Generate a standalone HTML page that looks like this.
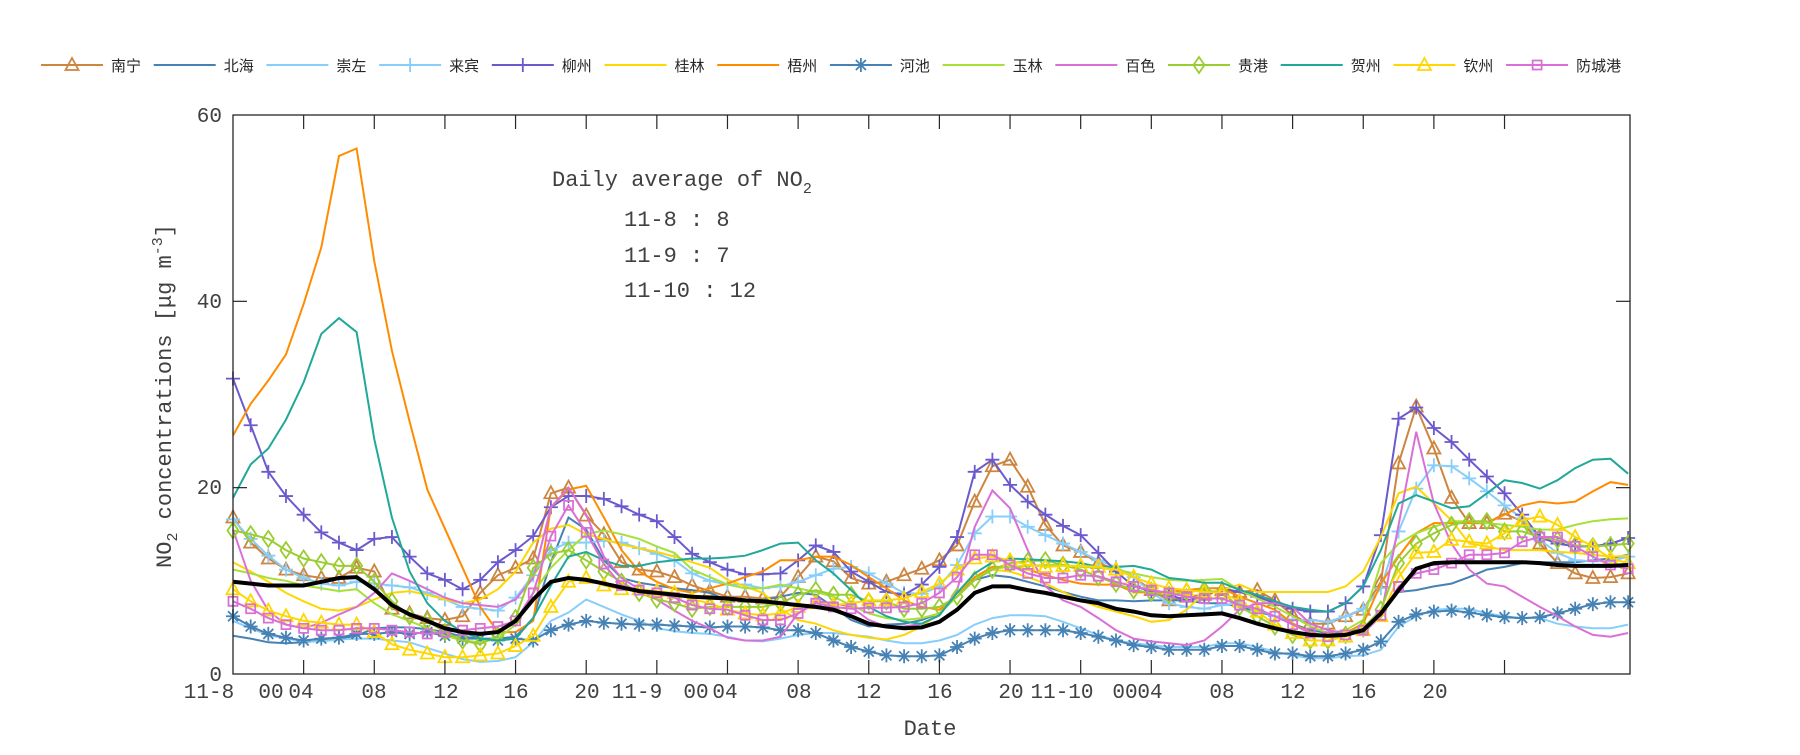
<!DOCTYPE html>
<html><head><meta charset="utf-8">
<style>
html,body{margin:0;padding:0;background:#fff;}
svg text{font-family:"Liberation Mono",monospace;fill:#404040;}
.lg{font-family:"Liberation Sans","Noto Sans CJK SC",sans-serif !important;font-size:15px;fill:#262626 !important;}
</style></head><body>
<svg id="s" width="1800" height="750" viewBox="0 0 1800 750" xmlns="http://www.w3.org/2000/svg">
<rect width="1800" height="750" fill="#fff"/>
<g id="plot"></g>
<rect x="233" y="115" width="1397" height="559" fill="none" stroke="#262626" stroke-width="1.3"/>
<g id="ticks" stroke="#262626" stroke-width="1.2"></g>
<g font-size="21" text-anchor="middle">
<text x="209" y="698">11-8</text><text x="271" y="698">00</text><text x="301" y="698">04</text>
<text x="374" y="698">08</text><text x="446" y="698">12</text><text x="516" y="698">16</text>
<text x="587" y="698">20</text><text x="637" y="698">11-9</text><text x="696" y="698">00</text><text x="725" y="698">04</text>
<text x="799" y="698">08</text><text x="869" y="698">12</text><text x="940" y="698">16</text>
<text x="1011" y="698">20</text><text x="1062" y="698">11-10</text><text x="1125" y="698">00</text><text x="1150" y="698">04</text>
<text x="1222" y="698">08</text><text x="1293" y="698">12</text><text x="1364" y="698">16</text><text x="1435" y="698">20</text>
</g>
<g font-size="21" text-anchor="end">
<text x="222" y="122">60</text><text x="222" y="308">40</text><text x="222" y="494">20</text><text x="222" y="681">0</text>
</g>
<text x="930" y="735" font-size="22" text-anchor="middle">Date</text>
<text transform="translate(171,396) rotate(-90)" font-size="22" text-anchor="middle">NO<tspan font-size="15" dy="6">2</tspan><tspan dy="-6"> concentrations [μg m</tspan><tspan font-size="15" dy="-9">-3</tspan><tspan dy="9">]</tspan></text>
<g font-size="22">
<text x="552" y="186">Daily average of NO<tspan font-size="15" dy="7">2</tspan></text>
<text x="624" y="226">11-8 : 8</text>
<text x="624" y="262">11-9 : 7</text>
<text x="624" y="297">11-10 : 12</text>
</g>
<g id="legend"></g>
</svg>
<script>
var D={
wz:[25.6,29,31.5,34.3,39.7,45.8,55.6,56.4,44.3,34.7,27.1,19.8,15.6,11.4,7.2,4.5,4.5,5.7,17.9,19.8,20.2,16.8,13.3,11,9.9,9.1,8.7,9.2,9.7,10.4,11,12.2,12.2,12.6,12.6,11.7,10.4,9.2,7.9,7.2,6.9,8.3,10.4,11.5,11.5,11.2,10.6,10.1,9.7,9.6,9.6,8.8,8.7,8.8,9,9.2,9.2,8.3,7.6,6.9,5.4,4.5,4,4.4,5.4,9.7,12.6,15.1,16.2,16.2,16.2,16.2,17.1,18.1,18.5,18.3,18.5,19.6,20.6,20.3],
hz:[18.9,22.5,24.2,27.3,31.3,36.5,38.2,36.7,25.2,16.8,11,7.6,5.7,4.5,3.8,3.6,3.8,6,9.5,12.6,13.1,12.2,11.6,11.6,12,12.2,12.4,12.4,12.5,12.7,13.3,14,14.1,12.2,10.8,9,7.2,6.2,5.6,5.4,6.3,8.7,10.8,12,12.4,12.3,12.2,12.1,11.9,11.5,11.5,11.6,11.2,10.3,10.1,9.8,9.8,9,8.5,7.8,7.2,6.9,6.7,7.6,9.4,13.3,18.3,19.2,18.5,17.8,18,19.4,20.8,20.5,19.9,20.8,22.1,23,23.1,21.5],
lz:[31.7,26.7,21.7,19.1,17.1,15.2,14.1,13.3,14.5,14.7,12.6,10.8,10.1,9.1,10.1,12,13.3,14.8,17.9,19.1,19.1,18.8,18,17.1,16.4,14.7,12.9,12,11.2,10.7,10.7,10.8,12.2,13.8,13.1,11,9.9,8.8,8.5,9.6,11.5,14.7,21.7,23,20.3,18.5,17.1,15.9,14.9,13,11,9.4,8.9,8.5,7.9,8.3,9.2,8.8,8.3,7.6,7,6.7,6.7,7.6,9.4,14.9,27.4,28.6,26.4,24.9,23,21.2,19.4,17.1,14.7,14,13.7,13.7,14,14.6],
nn:[16.8,14.1,12.4,11.2,10.6,10.3,10.3,11.4,11,7,6.5,6,5.8,6.2,8.7,10.6,11.4,12.4,19.4,20,17,15,12,11.2,11,10.4,9.5,8.9,8.3,8.3,8.1,8.3,10.4,12.6,12.1,10.3,9.7,9.9,10.6,11.3,12.2,13.8,18.5,22.3,23,20.1,16,13.8,13.1,11.9,11.2,10.4,9,7.9,8.3,8.5,9,8.8,9,7.9,6.3,5.4,5.4,6.2,6.9,9.9,22.6,28.7,24.2,18.9,16.2,16.2,17.2,16.4,14,11.9,10.8,10.3,10.4,10.8],
avg:[9.9,9.7,9.5,9.5,9.5,9.9,10.3,10.4,9.1,7.4,6.4,5.7,4.9,4.5,4.3,4.5,5.7,8,9.9,10.3,10.1,9.7,9.3,8.9,8.7,8.5,8.3,8.2,8.1,7.9,7.8,7.6,7.4,7.2,6.9,6.2,5.4,5.1,4.9,5,5.6,6.9,8.7,9.4,9.4,9,8.7,8.3,7.9,7.6,7,6.7,6.3,6.2,6.3,6.4,6.5,6,5.4,4.9,4.5,4.2,4.1,4.2,4.7,6.5,9,11.3,11.9,12,12,12,12,12,11.9,11.7,11.6,11.6,11.6,11.7],
hc:[6.2,5.1,4.3,3.9,3.6,3.8,3.9,4.3,4.3,4.5,4.3,4.5,4.1,3.8,3.8,3.6,3.8,3.6,4.7,5.3,5.7,5.5,5.4,5.3,5.3,5.2,5.1,5,5.1,5.1,5,4.7,4.7,4.4,3.6,2.9,2.4,2,1.9,1.9,2,2.9,3.8,4.4,4.7,4.7,4.7,4.7,4.4,4,3.6,3.1,2.9,2.6,2.6,2.6,3,3,2.6,2.2,2.2,1.9,1.9,2.2,2.6,3.5,5.6,6.4,6.7,6.8,6.6,6.3,6.1,6,6.1,6.5,7,7.5,7.7,7.7],
bh:[4.1,3.8,3.4,3.3,3.4,3.6,3.8,4.1,4.9,5,5,4.8,4.5,4,3.8,3.8,4,6,12,16.8,15.5,12.2,10.3,9.8,9.5,9.2,9,8.7,7.9,7.9,7.9,8.3,8.7,8.5,7.2,5.8,5.1,5.3,5.4,5.8,6.5,8.7,10.1,10.6,10.4,9.9,9.4,8.8,8.3,7.9,7.9,7.8,7.9,7.9,7.9,7.6,7.6,7.2,6.7,6.2,5.4,4.7,4.4,4.4,4.9,6.9,8.8,9,9.4,9.7,10.4,11.2,11.5,11.9,12,12,12,12.2,12.4,12.8],
cz:[5.7,4.9,4.2,3.8,3.5,3.5,3.7,3.8,3.8,3.6,3.4,2.8,2.2,1.6,1.3,1.4,1.8,3.4,5.7,6.6,8,7.2,6.4,5.7,4.9,4.6,4.4,4.3,4,3.6,3.5,3.8,4.2,4.4,4.4,4.2,4,3.6,3.3,3.3,3.6,4.2,5.3,6,6.3,6.3,6.2,5.6,4.9,4.2,3.6,3.3,3.1,2.9,2.9,2.9,3.3,3.3,2.9,2.4,2,1.7,1.7,1.9,2,2.6,5.1,6.2,6.9,7,7,6.5,6.2,6,6,5.4,5.1,4.9,4.9,5.3],
lb:[16.6,14.5,12.7,11.2,10.3,9.7,9.5,9.9,9.7,9.5,9.3,8.7,8,7.2,7,6.8,8.2,10.6,13.3,14.1,14.1,14.3,14.1,13.5,12.9,12.2,10.8,10,9.6,9.6,9.2,9.4,9.9,10.6,11.3,11.5,10.8,9.7,8.7,8.6,9.4,11.7,15.1,16.9,16.9,15.8,14.9,14,13.1,12.2,11.5,10.4,8.7,7.6,7.2,7,7.4,7.6,6.9,6.2,5.8,5.8,5.6,6.2,7,9.2,15.3,19.9,22.4,22.3,21,19.6,18.1,16.7,14.4,13,12.2,12.1,12.1,12.6],
gl:[12,11,9.9,8.7,7.8,7,6.8,7.2,8,8.7,8.9,8.5,8,7.6,8,9.1,11,14.1,15.6,16,15,14.5,13.9,13.5,13.1,12.6,12,11.4,10.1,9.4,8.7,7,5.8,5.4,4.7,4.2,3.9,3.7,4.2,5.1,6.5,8.7,10.4,11.2,11,10.4,9.7,8.8,7.9,7.2,6.7,6.2,5.6,5.8,6.9,8.7,9,9.6,8.8,8.8,8.8,8.8,8.8,9.4,11,14.7,19.4,20.1,18.3,16.5,14,13.7,13.3,13.3,13.3,13.1,13,12.8,12.6,12.7],
yl:[11.2,10.8,10.3,10,9.5,9.2,8.9,9.1,7.6,6.4,5.7,4.9,4.1,3.6,3.4,3.8,5.3,8.7,11.4,13.3,15,15.4,15,14.5,13.7,13,11.2,10.4,9.6,9.2,9.2,9.6,9.2,8.8,8.3,7.4,6.5,6,5.8,6,6.5,8.3,10.1,11.3,11.5,11.6,11.7,11.7,11.5,11.4,11.2,10.8,10.4,10.1,10,10.1,10.2,9,8.1,7.2,6.2,5.1,4.4,4.7,5.8,11.9,14,15.1,15.8,16.4,16.4,16.2,16,15.8,15.5,15.5,16,16.4,16.6,16.7],
bs:[15.5,10,6.8,5.3,4.9,5.5,6.4,7.2,8.7,10.8,10,9.1,8.2,7.6,7.4,7.2,8,10.3,17.9,20,17.1,12.6,10.3,9.1,8,6.8,5.7,4.9,3.9,3.6,3.6,4,6.5,7.8,7.6,7.2,5.8,5.1,5.1,5.4,6.3,9,15.8,19.7,17.8,13.3,9.4,7.9,7.2,6,4.7,3.8,3.5,3.3,3.1,3.6,5.1,6.9,7.6,7.6,7.2,5.4,4.7,4.4,4.4,6.2,16,26,18.3,14,11.2,9.7,9.4,8.3,7.2,6.2,5.1,4.2,4,4.4],
gg:[15.4,15,14.5,13.3,12.4,12,11.6,11.6,9.9,7.8,6.2,5.7,4.5,3.6,3.2,4.1,6,11.4,12.9,13.3,12.2,11,9.9,8.7,8,7.6,7,7.2,7.2,7.2,7.2,7.6,8.5,9,8.5,8.5,7.8,7.8,7,7,7.2,8.3,10.1,11.2,11.9,12.1,12.2,11.7,11.2,10.4,9.7,9,8.7,8.5,8.8,9,8.7,7.2,6.2,5.1,4.2,3.6,3.6,4.2,4.9,6.9,11.9,14,15.1,16,16.4,16.4,15.3,15.3,14.7,14.4,13.8,13.7,13.8,14],
qz:[9.1,7.8,6.8,6.2,5.7,5.5,5.3,5.3,4.5,3.2,2.6,2.2,1.8,1.8,2,2.2,3,4.1,7.2,9.9,10.3,9.5,9.1,9.1,8.9,8.7,8,7.6,6.9,6.5,6.3,6.5,7.2,7.6,7.4,7.6,7.9,7.9,8.1,8.8,9.7,11.2,12.4,12.6,12.2,11.7,11.5,11.6,11.6,11.5,11.2,10.4,9.7,9.2,9,8.8,8.7,7.8,6.7,5.3,4.4,3.6,3.6,4,4.7,6.2,10.4,13,13.1,14.4,14.2,14,15.1,16.5,16.9,16,14.7,13.7,12.4,11.9],
fc:[7.8,7,6,5.3,4.9,4.7,4.7,4.9,4.9,4.7,4.5,4.3,4.5,4.7,4.9,5.1,5.7,8.7,14.8,18.1,15.2,11.8,9.5,9,8.7,8.2,7.4,7,6.9,6.3,5.8,5.8,6.5,7.6,7.2,7,7.1,7.1,7.2,7.6,8.7,10.4,12.8,12.8,11.7,10.8,10.3,10.3,10.6,10.5,9.9,9.4,9,8.7,8.3,8.1,8.1,7.4,7,6.2,5.3,4.4,4,4.2,4.7,6.3,9.4,10.8,11.2,11.9,12.8,12.8,13,14.2,14.7,14.7,13.7,12.6,11.7,11.3]
};
var S=[
['南宁','nn','#cd853f','tri'],['北海','bh','#4682b4',''],['崇左','cz','#87cefa',''],['来宾','lb','#87cefa','plus'],
['柳州','lz','#6a5acd','plus'],['桂林','gl','#ffd700',''],['梧州','wz','#ff8c00',''],['河池','hc','#4682b4','star'],
['玉林','yl','#a8e03a',''],['百色','bs','#da70d6',''],['贵港','gg','#9acd32','dia'],['贺州','hz','#20a898',''],
['钦州','qz','#ffd700','tri'],['防城港','fc','#da70d6','sq']];
function X(i){return 233+17.66*i;}
function Y(v){return 674-v*9.317;}
function mk(t,x,y,c){
 var d='';
 if(t=='tri')d='M'+x+','+(y-7)+'L'+(x+6.5)+','+(y+5)+'L'+(x-6.5)+','+(y+5)+'Z';
 else if(t=='plus')d='M'+(x-7)+','+y+'H'+(x+7)+'M'+x+','+(y-7)+'V'+(y+7);
 else if(t=='star')d='M'+(x-7)+','+y+'H'+(x+7)+'M'+x+','+(y-7)+'V'+(y+7)+'M'+(x-5)+','+(y-5)+'L'+(x+5)+','+(y+5)+'M'+(x-5)+','+(y+5)+'L'+(x+5)+','+(y-5);
 else if(t=='dia')d='M'+x+','+(y-8)+'L'+(x+5.5)+','+y+'L'+x+','+(y+8)+'L'+(x-5.5)+','+y+'Z';
 else if(t=='sq')d='M'+(x-4.5)+','+(y-4.5)+'h9v9h-9Z';
 return '<path d="'+d+'" fill="none" stroke="'+c+'" stroke-width="1.8"/>';
}
var h='';
S.forEach(function(s){
 var a=D[s[1]],p='';
 for(var i=0;i<a.length;i++)p+=(i?'L':'M')+X(i).toFixed(1)+','+Y(a[i]).toFixed(1);
 h+='<path d="'+p+'" fill="none" stroke="'+s[2]+'" stroke-width="2"/>';
 if(s[3])for(var i=0;i<a.length;i++)h+=mk(s[3],X(i),Y(a[i]),s[2]);
});
var a=D.avg,p='';
for(var i=0;i<a.length;i++)p+=(i?'L':'M')+X(i).toFixed(1)+','+Y(a[i]).toFixed(1);
h+='<path d="'+p+'" fill="none" stroke="#000" stroke-width="4"/>';
document.getElementById('plot').innerHTML=h;
var t='';
for(var k=4;k<=72;k+=4){var x=X(k);t+='<line x1="'+x+'" y1="674" x2="'+x+'" y2="660"/><line x1="'+x+'" y1="115" x2="'+x+'" y2="129"/>';}
[20,40].forEach(function(v){var y=Y(v);t+='<line x1="233" y1="'+y+'" x2="247" y2="'+y+'"/><line x1="1630" y1="'+y+'" x2="1616" y2="'+y+'"/>';});
document.getElementById('ticks').innerHTML=t;
var l='';
S.forEach(function(s,i){
 var x0=41+112.7*i;
 l+='<line x1="'+x0+'" y1="65" x2="'+(x0+62)+'" y2="65" stroke="'+s[2]+'" stroke-width="2"/>';
 if(s[3])l+=mk(s[3],x0+31,65,s[2]);
 l+='<text class="lg" x="'+(x0+70)+'" y="71">'+s[0]+'</text>';
});
document.getElementById('legend').innerHTML=l;
</script>
</body></html>
